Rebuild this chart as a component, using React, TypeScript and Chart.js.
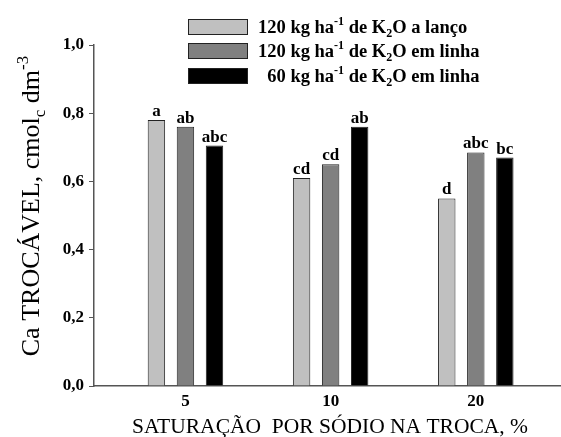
import React, { useEffect, useRef } from "react";
import { Chart, registerables } from "chart.js";

Chart.register(...registerables);

const categories = ["5", "10", "20"];
const seriesNames = ["120", "120", "60"];
const seriesSuffix = ["O a lanço", "O em linha", "O em linha"];
const lanco120 = [0.78, 0.61, 0.55];
const linha120 = [0.76, 0.65, 0.685];
const linha60 = [0.705, 0.76, 0.67];
const labels120Lanco = ["a", "cd", "d"];
const labels120Linha = ["ab", "cd", "abc"];
const labels60Linha = ["abc", "ab", "bc"];
const yTicks = [0, 0.2, 0.4, 0.6, 0.8, 1.0];

const FONT = '"Liberation Serif", "Times New Roman", serif';
const fills = ["#c0c0c0", "#808080", "#000000"];
const AXIS = "#555555";

type Part = { t: string; m?: "sup" | "sub" };

function richWidth(ctx: CanvasRenderingContext2D, parts: Part[], size: number, weight: string) {
  let w = 0;
  for (const p of parts) {
    const s = p.m ? Math.round(size * 0.65) : size;
    ctx.font = `${weight} ${s}px ${FONT}`;
    w += ctx.measureText(p.t).width;
  }
  return w;
}

function drawRich(ctx: CanvasRenderingContext2D, parts: Part[], x: number, y: number, size: number, weight: string) {
  let cx = x;
  ctx.textAlign = "left";
  ctx.textBaseline = "alphabetic";
  for (const p of parts) {
    const s = p.m ? Math.round(size * 0.65) : size;
    ctx.font = `${weight} ${s}px ${FONT}`;
    let dy = 0;
    if (p.m === "sup") dy = -size * 0.42;
    if (p.m === "sub") dy = size * 0.22;
    ctx.fillText(p.t, cx, y + dy);
    cx += ctx.measureText(p.t).width;
  }
  return cx;
}

const decorPlugin = {
  id: "decor",
  afterDraw(chart: any) {
    const ctx: CanvasRenderingContext2D = chart.ctx;
    ctx.save();
    ctx.fillStyle = "#000";

    // bar letters
    const allLabels = [labels120Lanco, labels120Linha, labels60Linha];
    chart.data.datasets.forEach((_: any, i: number) => {
      const meta = chart.getDatasetMeta(i);
      meta.data.forEach((el: any, j: number) => {
        ctx.font = `bold 17px ${FONT}`;
        ctx.textAlign = "center";
        ctx.textBaseline = "alphabetic";
        ctx.fillText(allLabels[i][j], el.x, el.y - 4);
      });
    });

    // legend
    const boxX = 188, boxW = 60, boxH = 16;
    const rowTops = [19, 43, 68];
    const size = 18.5;
    ctx.font = `bold ${size}px ${FONT}`;
    const numRight = 258 + ctx.measureText("120").width;
    chart.data.datasets.forEach((ds: any, i: number) => {
      const top = rowTops[i];
      ctx.fillStyle = fills[i];
      ctx.fillRect(boxX, top, boxW, boxH);
      ctx.strokeStyle = "#222";
      ctx.lineWidth = 1;
      ctx.strokeRect(boxX + 0.5, top + 0.5, boxW - 1, boxH - 1);
      ctx.fillStyle = "#000";
      ctx.font = `bold ${size}px ${FONT}`;
      ctx.textAlign = "right";
      ctx.textBaseline = "alphabetic";
      const base = top + boxH - 2;
      ctx.fillText(seriesNames[i], numRight, base);
      drawRich(
        ctx,
        [{ t: " kg ha" }, { t: "-1", m: "sup" }, { t: " de K" }, { t: "2", m: "sub" }, { t: seriesSuffix[i] }],
        numRight,
        base,
        size,
        "bold"
      );
    });

    // y title
    const yParts: Part[] = [{ t: "Ca TROCÁVEL, cmol" }, { t: "c", m: "sub" }, { t: " dm" }, { t: "-3", m: "sup" }];
    const ys = 26;
    const yw = richWidth(ctx, yParts, ys, "normal");
    ctx.save();
    ctx.translate(39, 206);
    ctx.rotate(-Math.PI / 2);
    drawRich(ctx, yParts, -yw / 2, 0, ys, "normal");
    ctx.restore();

    // x title
    ctx.font = `normal 21.5px ${FONT}`;
    ctx.textAlign = "center";
    ctx.textBaseline = "alphabetic";
    ctx.fillText("SATURAÇÃO  POR SÓDIO NA TROCA, %", 330, 433);

    ctx.restore();
  },
};

export default function App() {
  const ref = useRef<HTMLCanvasElement | null>(null);
  useEffect(() => {
    document.body.style.margin = "0";
    const series = [lanco120, linha120, linha60];
    const chart = new Chart(ref.current as HTMLCanvasElement, {
      type: "bar",
      data: {
        datasets: series.map((vals, i) => ({
          label: seriesNames[i] + " kg ha-1 de K2" + seriesSuffix[i],
          data: vals.map((v, j) => ({ x: j, y: v })),
          backgroundColor: fills[i],
          borderColor: "#222",
          borderWidth: 1,
          categoryPercentage: 0.6,
          barPercentage: 0.6,
        })),
      },
      options: {
        responsive: false,
        animation: false,
        layout: { padding: { top: 45, left: 0, right: 1, bottom: 0 } },
        plugins: { legend: { display: false }, tooltip: { enabled: false }, title: { display: false } },
        scales: {
          x: {
            type: "linear",
            offset: false,
            min: -0.63,
            max: 2.58,
            afterBuildTicks: (scale: any) => {
              scale.ticks = categories.map((_, i) => ({ value: i }));
            },
            afterFit: (scale: any) => {
              scale.height = 51;
            },
            grid: { display: false, drawTicks: false },
            border: { display: true, color: AXIS, width: 1.5 },
            ticks: {
              padding: 5,
              color: "#000",
              font: { family: FONT, size: 17, weight: "bold" },
              callback: (v: any) => categories[Number(v)] ?? "",
            },
          },
          y: {
            min: 0,
            max: 1,
            afterBuildTicks: (scale: any) => {
              scale.ticks = yTicks.map((v) => ({ value: v }));
            },
            afterFit: (scale: any) => {
              scale.width = 94;
            },
            grid: { display: true, drawOnChartArea: false, drawTicks: true, tickLength: 5, color: AXIS },
            border: { display: true, color: AXIS, width: 1.5 },
            ticks: {
              padding: 5,
              color: "#000",
              font: { family: FONT, size: 17, weight: "bold" },
              callback: (v: any) => Number(v).toFixed(1).replace(".", ","),
            },
          },
        },
      },
      plugins: [decorPlugin],
    } as any);
    return () => chart.destroy();
  }, []);
  return (
    <div style={{ width: 561, height: 437, background: "#fff" }}>
      <canvas ref={ref} width={561} height={437} />
    </div>
  );
}
